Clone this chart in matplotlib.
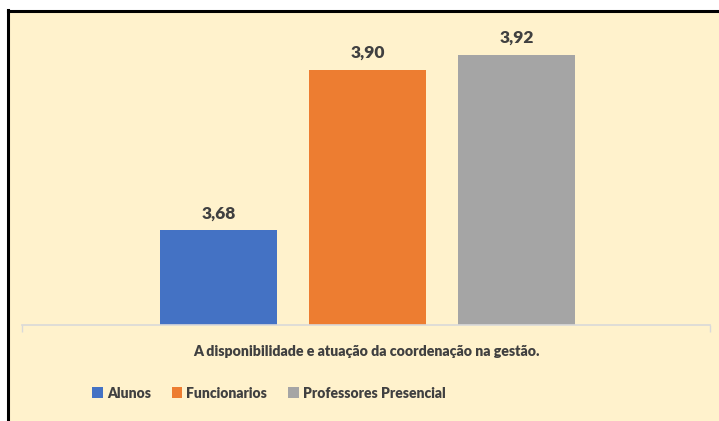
import matplotlib.pyplot as plt
from matplotlib.lines import Line2D
from matplotlib.patches import Rectangle, Patch

category = "A disponibilidade e atuação da coordenação na gestão."
series = ["Alunos", "Funcionarios", "Professores Presencial"]
values = [3.68, 3.90, 3.92]
labels = ["3,68", "3,90", "3,92"]
colors = ["#4472C4", "#ED7D31", "#A5A5A5"]

plt.rcParams["font.family"] = ["Lato", "DejaVu Sans"]
text_color = "#404040"

fig = plt.figure(figsize=(7.19, 4.21), dpi=100)
fig.patch.set_facecolor("white")

# cream chart area with the black border on top and left
fig.patches.append(Rectangle((9 / 719, 0), 1, 1 - 12 / 421, transform=fig.transFigure,
                             facecolor="#FFF2CC", edgecolor="none", zorder=-5))
fig.lines.append(Line2D([8 / 719, 1], [1 - 11 / 421, 1 - 11 / 421], transform=fig.transFigure,
                        color="black", linewidth=2.2, zorder=-4))
fig.lines.append(Line2D([8 / 719, 8 / 719], [0, 1 - 10 / 421], transform=fig.transFigure,
                        color="black", linewidth=2.2, zorder=-4))

ax = fig.add_axes([22 / 719, 1 - 325 / 421, 688 / 719, 292 / 421])
ax.set_facecolor("none")

width = 0.17
step = 0.2166
for i, (name, v, lab, c) in enumerate(zip(series, values, labels, colors)):
    x = (i - 1) * step + 0.002
    ax.bar(x, v - 3.55, bottom=3.55, width=width, color=c, label=name, zorder=2)
    ax.text(x, v + 0.012, lab, ha="center", va="bottom", fontsize=12.5,
            fontweight="heavy", color=text_color)

ax.set_xlim(-0.5, 0.5)
ax.set_ylim(3.55, 3.95)
ax.set_yticks([])
ax.set_xticks([-0.5, 0.5])
ax.set_xticklabels([])
ax.tick_params(axis="x", length=5, color="#D9D9D9", width=1)
for s in ["top", "right", "left"]:
    ax.spines[s].set_visible(False)
ax.spines["bottom"].set_color("#D9D9D9")
ax.spines["bottom"].set_linewidth(1.2)

fig.text(366 / 719, 1 - 352 / 421, category, ha="center", va="center",
         fontsize=10.2, fontweight="heavy", color=text_color)

handles = [Patch(facecolor=c, label=n) for n, c in zip(series, colors)]
leg = fig.legend(handles=handles, loc="center", bbox_to_anchor=(269 / 719, 1 - 393 / 421),
                 ncol=3, frameon=False, fontsize=10, handlelength=0.75, handleheight=0.9,
                 handletextpad=0.3, columnspacing=1.5)
for t in leg.get_texts():
    t.set_fontweight("heavy")
    t.set_color(text_color)

fig.savefig("out.png", dpi=100)
